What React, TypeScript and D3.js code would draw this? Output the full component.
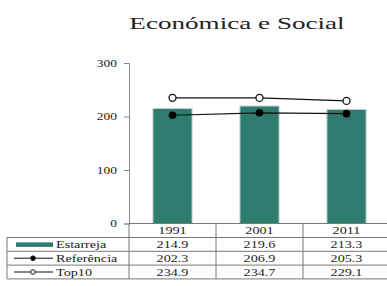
import React, { useRef, useEffect } from 'react';
import * as d3 from 'd3';

const years = ['1991', '2001', '2011'];
const estarreja = [214.9, 219.6, 213.3];
const referencia = [202.3, 206.9, 205.3];
const top10 = [234.9, 234.7, 229.1];
const yTicks = [0, 100, 200, 300];

export default function App() {
  const svgRef = useRef<SVGSVGElement>(null);

  useEffect(() => {
    const w = 387;
    const h = 286;
    const svg = d3.select(svgRef.current);
    svg.selectAll('*').remove();
    svg.attr('width', w).attr('height', h).style('display', 'block')
      .attr('font-family', "'Liberation Serif', 'Times New Roman', serif");

    const left = 129;
    const top = 63;
    const bottom = 223.5;
    const bandW = 87;
    const sx = 1.35; // the picture's text is stretched sideways

    const x = d3.scaleBand().domain(years).range([left, left + bandW * years.length]).paddingInner(0.55).paddingOuter(0.275);
    const xc = (d: string) => (x(d) as number) + x.bandwidth() / 2;
    const y = d3.scaleLinear().domain([0, 300]).range([bottom, top]);

    const label = (parent: any, tx: number, ty: number, s: string, size: number, anchor = 'start', k = sx) =>
      parent.append('text')
        .attr('transform', `translate(${tx},${ty}) scale(${k},1)`)
        .attr('text-anchor', anchor)
        .attr('font-size', size)
        .attr('fill', '#222')
        .text(s);

    // title
    label(svg, 237, 29, 'Económica e Social', 17.5, 'middle', 1.55);

    // y axis
    const yAxis = d3.axisLeft(y).tickValues(yTicks).tickSize(5).tickFormat(() => '');
    const ga = svg.append('g').attr('transform', `translate(${left},0)`).call(yAxis);
    ga.selectAll('path, line').attr('stroke', '#888');
    yTicks.forEach((t) => label(svg, 117, y(t) + 3.5, String(t), 10, 'end'));

    // bars
    svg.selectAll('.bar')
      .data(estarreja)
      .join('rect')
      .attr('x', (d, i) => x(years[i]) as number)
      .attr('y', (d) => y(d))
      .attr('width', x.bandwidth())
      .attr('height', (d) => y(0) - y(d))
      .attr('fill', '#2E7B6F')
      .attr('stroke', '#c8d0d0')
      .attr('stroke-width', 1);

    // lines
    const line = d3.line<number>().x((d, i) => xc(years[i])).y((d) => y(d));
    svg.append('path').attr('d', line(top10)).attr('fill', 'none').attr('stroke', '#111').attr('stroke-width', 1.2);
    svg.append('path').attr('d', line(referencia)).attr('fill', 'none').attr('stroke', '#111').attr('stroke-width', 1.2);
    svg.selectAll('.top')
      .data(top10).join('circle')
      .attr('cx', (d, i) => xc(years[i])).attr('cy', (d) => y(d)).attr('r', 3.5)
      .attr('fill', '#fff').attr('stroke', '#111').attr('stroke-width', 1.3);
    svg.selectAll('.ref')
      .data(referencia).join('circle')
      .attr('cx', (d, i) => xc(years[i])).attr('cy', (d) => y(d)).attr('r', 3.8)
      .attr('fill', '#000');

    // data table
    const rows = [
      { name: 'Estarreja', values: estarreja, kind: 'bar' },
      { name: 'Referência', values: referencia, kind: 'dot' },
      { name: 'Top10', values: top10, kind: 'open' },
    ];
    const headH = 14;
    const rowH = 13.8;
    const rowTop = (r: number) => bottom + headH + rowH * r;
    const tLeft = 7;
    const right = left + bandW * years.length;
    const g = svg.append('g');
    const stroke = '#777';

    // horizontal lines
    g.append('line').attr('x1', left).attr('x2', right).attr('y1', bottom).attr('y2', bottom).attr('stroke', stroke);
    for (let r = 0; r <= rows.length; r++) {
      const yy = rowTop(r);
      g.append('line').attr('x1', tLeft).attr('x2', right).attr('y1', yy).attr('y2', yy).attr('stroke', stroke);
    }
    // vertical lines
    g.append('line').attr('x1', tLeft).attr('x2', tLeft).attr('y1', rowTop(0)).attr('y2', rowTop(rows.length)).attr('stroke', stroke);
    years.forEach((yr, i) => {
      const xx = left + bandW * i;
      g.append('line').attr('x1', xx).attr('x2', xx).attr('y1', bottom).attr('y2', rowTop(rows.length)).attr('stroke', stroke);
    });

    // header
    years.forEach((yr) => label(g, xc(yr), bottom + headH / 2 + 3.7, yr, 10.5, 'middle'));

    rows.forEach((row, r) => {
      const cy = rowTop(r) + rowH / 2;
      if (row.kind === 'bar') {
        g.append('rect').attr('x', 16).attr('y', cy - 2).attr('width', 37).attr('height', 4.5).attr('fill', '#2E7B6F');
      } else {
        g.append('line').attr('x1', 14).attr('x2', 53).attr('y1', cy).attr('y2', cy).attr('stroke', '#111');
        g.append('circle').attr('cx', 33).attr('cy', cy).attr('r', 2.3)
          .attr('fill', row.kind === 'dot' ? '#000' : '#fff').attr('stroke', '#111');
      }
      label(g, 56, cy + 3.5, row.name, 10.5);
      row.values.forEach((v, i) => label(g, xc(years[i]), cy + 3.5, v.toFixed(1), 10.5, 'middle'));
    });
  }, []);

  return <svg ref={svgRef} style={{ position: 'absolute', left: 0, top: 0 }}></svg>;
}
